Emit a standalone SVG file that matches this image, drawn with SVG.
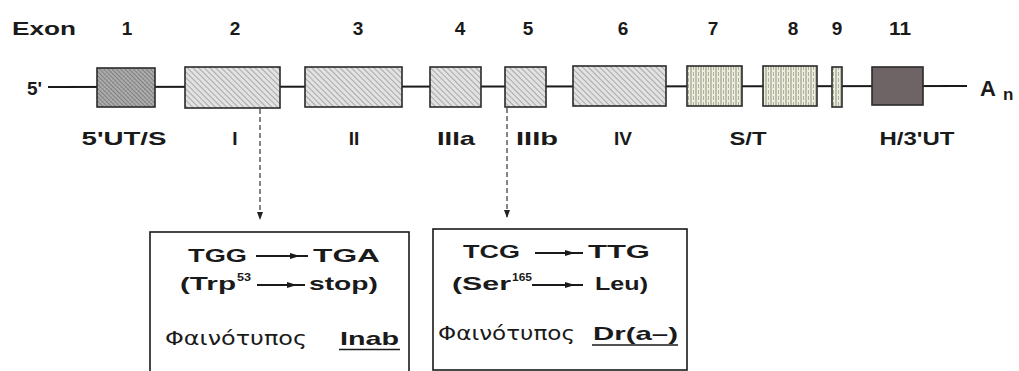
<svg xmlns="http://www.w3.org/2000/svg" width="1019" height="371" viewBox="0 0 1019 371">
<defs>
  <pattern id="hatch" width="4" height="4" patternUnits="userSpaceOnUse" patternTransform="rotate(-45)">
    <rect width="4" height="4" fill="#e2e2e2"/>
    <line x1="0" y1="0" x2="0" y2="4" stroke="#8a8a8a" stroke-width="1.3"/>
  </pattern>
  <pattern id="cross" width="3" height="3" patternUnits="userSpaceOnUse" patternTransform="rotate(-45)">
    <rect width="3" height="3" fill="#b0b0b0"/>
    <line x1="0" y1="0" x2="0" y2="3" stroke="#555" stroke-width="1"/>
    <line x1="0" y1="0" x2="3" y2="0" stroke="#777" stroke-width="0.6"/>
  </pattern>
  <pattern id="vstripe" width="5" height="6" patternUnits="userSpaceOnUse">
    <rect width="5" height="6" fill="#eeeedd"/>
    <line x1="1" y1="0" x2="1" y2="6" stroke="#8f9080" stroke-width="1"/>
    <line x1="3.5" y1="0" x2="3.5" y2="4" stroke="#a0a090" stroke-width="0.8"/>
  </pattern>
  <marker id="ah" markerWidth="8" markerHeight="6" refX="7" refY="3" orient="auto" markerUnits="userSpaceOnUse">
    <path d="M0,0 L8,3 L0,6 Z" fill="#222"/>
  </marker>
</defs>
<style>
  text { font-family: "Liberation Sans", Arial, sans-serif; fill: #1a1a1a; }
  .b { font-weight: bold; font-size: 19px; }
  .lab { font-weight: bold; font-size: 19px; text-anchor: middle; }
  .sup { font-weight: bold; font-size: 11px; }
  .gr { font-family: "DejaVu Sans", "Noto Sans", sans-serif; font-size: 19px; }
  .big { font-weight: bold; font-size: 22px; }
  .sub { font-weight: bold; font-size: 17px; }
  .exon { stroke: #2a2a2a; stroke-width: 1.6; }
  .frame { fill: #ffffff; stroke: #1a1a1a; stroke-width: 1.6; }
  .dash { stroke: #444; stroke-width: 1.3; stroke-dasharray: 5 3; fill: none; }
  .mut { stroke: #1a1a1a; stroke-width: 2; }
</style>
<rect width="1019" height="371" fill="#ffffff"/>

<g id="header">
  <text class="b" x="12" y="35" textLength="64" lengthAdjust="spacingAndGlyphs">Exon</text>
  <text class="lab" x="127" y="35">1</text>
  <text class="lab" x="235" y="35">2</text>
  <text class="lab" x="358" y="35">3</text>
  <text class="lab" x="460" y="35">4</text>
  <text class="lab" x="528" y="35">5</text>
  <text class="lab" x="623" y="35">6</text>
  <text class="lab" x="713" y="35">7</text>
  <text class="lab" x="793" y="35">8</text>
  <text class="lab" x="837" y="35">9</text>
  <text class="lab" x="900" y="35" textLength="22" lengthAdjust="spacingAndGlyphs">11</text>
</g>

<g id="gene-line">
  <text class="b" x="27" y="95">5'</text>
  <line x1="48" y1="87" x2="967" y2="86" stroke="#1a1a1a" stroke-width="2"/>
  <text class="big" x="980" y="96">A</text>
  <text class="sub" x="1003" y="100">n</text>
</g>

<g id="exon1"><rect class="exon" x="97" y="68" width="58" height="39" fill="url(#cross)"/></g>
<g id="exon2"><rect class="exon" x="185" y="67" width="95" height="41" fill="url(#hatch)"/></g>
<g id="exon3"><rect class="exon" x="305" y="67" width="97" height="40" fill="url(#hatch)"/></g>
<g id="exon4"><rect class="exon" x="430" y="67" width="51" height="40" fill="url(#hatch)"/></g>
<g id="exon5"><rect class="exon" x="505" y="67" width="41" height="40" fill="url(#hatch)"/></g>
<g id="exon6"><rect class="exon" x="573" y="66" width="93" height="40" fill="url(#hatch)"/></g>
<g id="exon7"><rect class="exon" x="687" y="66" width="55" height="40" fill="url(#vstripe)"/></g>
<g id="exon8"><rect class="exon" x="763" y="66" width="54" height="40" fill="url(#vstripe)"/></g>
<g id="exon9"><rect class="exon" x="832" y="67" width="10" height="40" fill="url(#vstripe)"/></g>
<g id="exon11"><rect class="exon" x="872" y="67" width="51" height="38" fill="#6e6466"/></g>

<g id="domain-labels">
  <text class="lab" x="124" y="145" textLength="85" lengthAdjust="spacingAndGlyphs">5'UT/S</text>
  <text class="lab" x="235" y="145">I</text>
  <text class="lab" x="354" y="145">II</text>
  <text class="lab" x="456" y="145" textLength="38" lengthAdjust="spacingAndGlyphs">IIIa</text>
  <text class="lab" x="537" y="145" textLength="42" lengthAdjust="spacingAndGlyphs">IIIb</text>
  <text class="lab" x="623" y="145">IV</text>
  <text class="lab" x="748" y="145" textLength="37" lengthAdjust="spacingAndGlyphs">S/T</text>
  <text class="lab" x="917" y="145" textLength="75" lengthAdjust="spacingAndGlyphs">H/3'UT</text>
</g>

<g id="connectors">
  <line class="dash" x1="260" y1="109" x2="260" y2="219" marker-end="url(#ah)"/>
  <line class="dash" x1="507" y1="108" x2="507" y2="217" marker-end="url(#ah)"/>
</g>

<g id="mutation-exon2">
  <rect class="frame" x="150" y="232" width="259" height="142"/>
  <text class="b" x="188" y="262" textLength="59" lengthAdjust="spacingAndGlyphs">TGG</text>
  <line class="mut" x1="256" y1="256" x2="308" y2="256"/>
  <path d="M290,253 L300,256 L290,259 Z" fill="#1a1a1a"/>
  <text class="b" x="313" y="262" textLength="67" lengthAdjust="spacingAndGlyphs">TGA</text>
  <text class="b" x="180" y="290" textLength="56" lengthAdjust="spacingAndGlyphs">(Trp</text>
  <text class="sup" x="237" y="281" textLength="14" lengthAdjust="spacingAndGlyphs">53</text>
  <line class="mut" x1="257" y1="285" x2="305" y2="285"/>
  <path d="M287,282 L297,285 L287,288 Z" fill="#1a1a1a"/>
  <text class="b" x="309" y="290" textLength="69" lengthAdjust="spacingAndGlyphs">stop)</text>
  <text class="gr" x="165" y="345" textLength="142" lengthAdjust="spacingAndGlyphs">Φαινότυπος</text>
  <text class="b" x="340" y="345" textLength="59" lengthAdjust="spacingAndGlyphs">Inab</text>
  <line x1="339" y1="349.5" x2="400" y2="349.5" stroke="#1a1a1a" stroke-width="1.6"/>
</g>

<g id="mutation-exon5">
  <rect class="frame" x="433" y="229" width="254" height="141"/>
  <text class="b" x="463" y="258" textLength="57" lengthAdjust="spacingAndGlyphs">TCG</text>
  <line class="mut" x1="535" y1="253" x2="583" y2="253"/>
  <path d="M565,250 L575,253 L565,256 Z" fill="#1a1a1a"/>
  <text class="b" x="588" y="258" textLength="62" lengthAdjust="spacingAndGlyphs">TTG</text>
  <text class="b" x="452" y="290" textLength="59" lengthAdjust="spacingAndGlyphs">(Ser</text>
  <text class="sup" x="512" y="281" textLength="20" lengthAdjust="spacingAndGlyphs">165</text>
  <line class="mut" x1="532" y1="285" x2="583" y2="285"/>
  <path d="M565,282 L575,285 L565,288 Z" fill="#1a1a1a"/>
  <text class="b" x="595" y="290" textLength="53" lengthAdjust="spacingAndGlyphs">Leu)</text>
  <text class="gr" x="438" y="340" textLength="137" lengthAdjust="spacingAndGlyphs">Φαινότυπος</text>
  <text class="b" x="593" y="340" textLength="85" lengthAdjust="spacingAndGlyphs">Dr(a–)</text>
  <line x1="592" y1="345" x2="678" y2="345" stroke="#1a1a1a" stroke-width="1.6"/>
</g>
</svg>
